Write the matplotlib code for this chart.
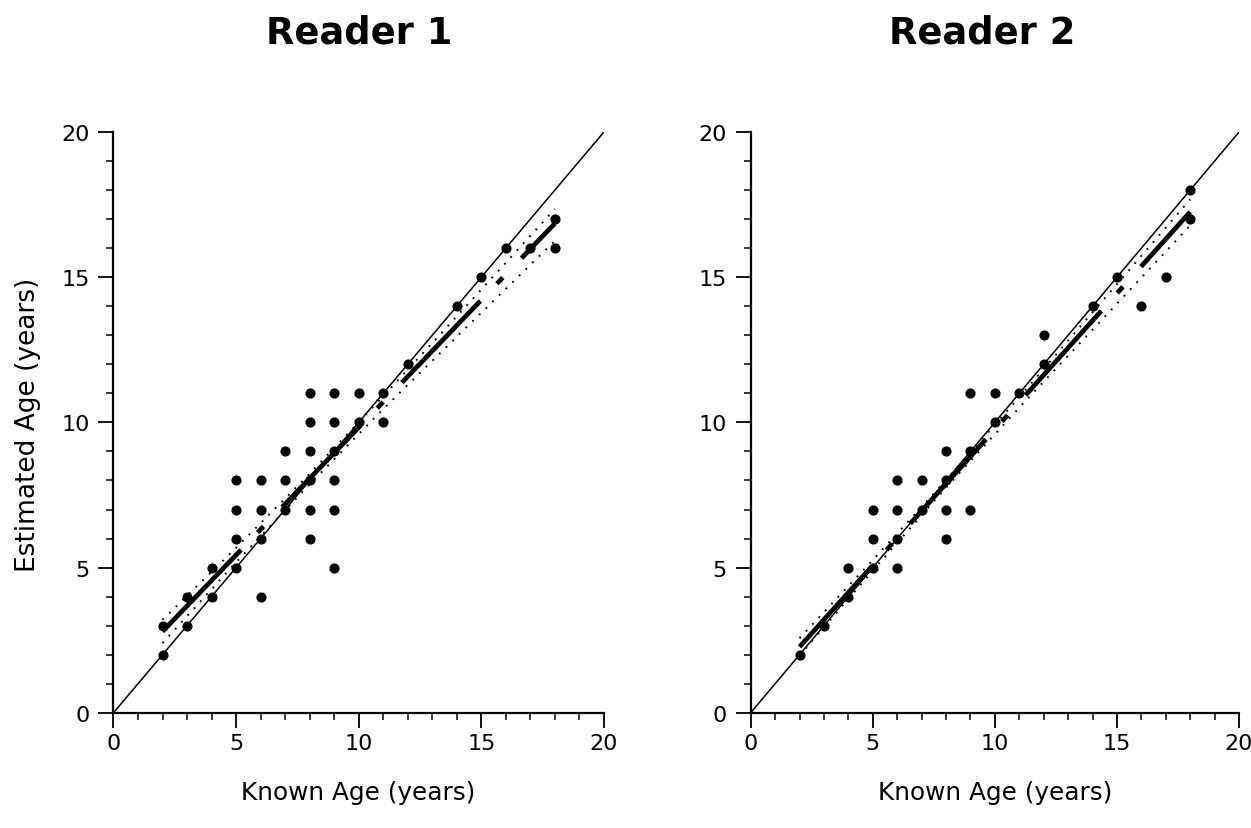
import matplotlib
matplotlib.use('Agg')
import matplotlib.pyplot as plt
from matplotlib.ticker import MultipleLocator

plt.rcParams['font.family'] = ['DejaVu Sans']
plt.rcParams['lines.scale_dashes'] = False

# Reader 1: known age vs estimated age
r1_known = [2, 2, 3, 3, 4, 4, 5, 5, 5, 5, 6, 6, 6, 6, 7, 7, 7, 8, 8, 8,
            8, 8, 8, 9, 9, 9, 9, 9, 9, 10, 10, 11, 11, 12, 14, 15, 16, 17, 18, 18]
r1_est = [2, 3, 3, 4, 4, 5, 5, 6, 7, 8, 4, 6, 7, 8, 7, 8, 9, 6, 7, 8,
          9, 10, 11, 5, 7, 8, 9, 10, 11, 10, 11, 10, 11, 12, 14, 15, 16, 16, 16, 17]

# Reader 2
r2_known = [2, 3, 4, 4, 5, 5, 5, 6, 6, 6, 6, 7, 7, 8, 8, 8, 8, 9, 9, 9,
            10, 10, 11, 12, 12, 14, 15, 16, 17, 18, 18]
r2_est = [2, 3, 4, 5, 5, 6, 7, 5, 6, 7, 8, 7, 8, 6, 7, 8, 9, 7, 9, 11,
          10, 11, 11, 12, 13, 14, 15, 14, 15, 17, 18]

# fitted regression lines (end points)
fit_x = [2, 18]
r1_fit = [2.80, 16.85]
r2_fit = [2.27, 17.25]

# confidence band, read at a few known ages
band_x = [2, 5, 8, 11, 14, 18]
r1_upper = [3.20, 5.68, 8.23, 10.90, 13.65, 17.35]
r1_lower = [2.40, 5.18, 7.87, 10.46, 12.95, 16.25]
r2_upper = [2.57, 5.26, 8.01, 10.87, 13.79, 17.68]
r2_lower = [1.97, 4.90, 7.75, 10.51, 13.19, 16.78]

fig = plt.figure(figsize=(12.51, 8.29), dpi=100)

panels = [
    ('Reader 1', r1_known, r1_est, r1_fit, r1_upper, r1_lower,
     [0.0907, 0.139, 0.392, 0.7005], 0.0),
    ('Reader 2', r2_known, r2_est, r2_fit, r2_upper, r2_lower,
     [0.6001, 0.139, 0.3903, 0.7005], 5.0),
]

for title, kx, ey, fit, up, lo, rect, dash_off in panels:
    ax = fig.add_axes(rect)
    ax.plot([0, 20], [0, 20], color='black', lw=1.1, zorder=2)
    ax.plot(band_x, up, color='black', lw=1.4, linestyle=(0, (1.3, 5.4)), zorder=2)
    ax.plot(band_x, lo, color='black', lw=1.4, linestyle=(0, (1.3, 5.4)), zorder=2)
    ax.plot(fit_x, fit, color='black', lw=3.4, solid_capstyle='butt',
            dash_capstyle='butt',
            linestyle=(dash_off, (81.5, 17.3, 6.1, 19.4)), zorder=3)
    ax.plot(kx, ey, 'o', color='black', ms=6.3, clip_on=False, zorder=4)

    ax.set_xlim(0, 20)
    ax.set_ylim(0, 20)
    for s in ['top', 'right']:
        ax.spines[s].set_visible(False)
    for s in ['left', 'bottom']:
        ax.spines[s].set_linewidth(1.6)
    ax.xaxis.set_major_locator(MultipleLocator(5))
    ax.yaxis.set_major_locator(MultipleLocator(5))
    ax.xaxis.set_minor_locator(MultipleLocator(1))
    ax.yaxis.set_minor_locator(MultipleLocator(1))
    ax.tick_params(which='major', direction='out', length=10.8, width=1.3, labelsize=16)
    ax.tick_params(which='minor', direction='out', length=4.8, width=1.1)
    ax.tick_params(axis='x', which='major', pad=3.6)
    ax.tick_params(axis='y', which='major', pad=6.5)

    cx = rect[0] + rect[2] / 2
    fig.text(cx, 1 - 793 / 829, 'Known Age (years)', ha='center', va='center', fontsize=17.8)

fig.text(359 / 1251, 1 - 43 / 829, 'Reader 1', ha='center', va='baseline',
         fontsize=26.6, fontweight='bold')
fig.text(982 / 1251, 1 - 43 / 829, 'Reader 2', ha='center', va='baseline',
         fontsize=26.6, fontweight='bold')
fig.text(28 / 1251, 1 - 425 / 829, 'Estimated Age (years)', rotation=90,
         ha='center', va='center', fontsize=19)

fig.savefig('out.png', dpi=100)
